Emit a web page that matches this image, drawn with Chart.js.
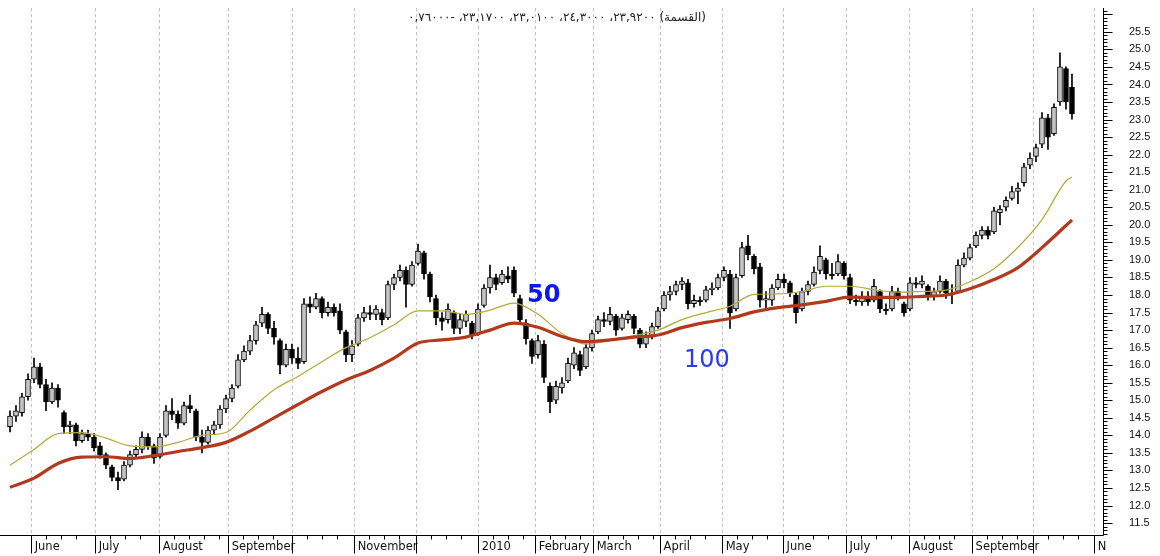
<!DOCTYPE html>
<html>
<head>
<meta charset="utf-8">
<script src="https://cdn.jsdelivr.net/npm/chart.js@4.4.0/dist/chart.umd.min.js"></script>
<style>
  html, body { margin: 0; padding: 0; background: #fff; }
  #wrap { position: relative; width: 1160px; height: 556px; }
  #title { position: absolute; top: 10px; left: 0; width: 1114px; text-align: center;
           font: 12px "DejaVu Sans", sans-serif; color: #222; }
</style>
</head>
<body>
<div id="wrap">
  <canvas id="chart" width="1160" height="556"></canvas>
  <div id="title" dir="rtl">(القسمة) ٢٣,٩٢٠٠، ٢٤,٣٠٠٠، ٢٣,٠١٠٠، ٢٣,١٧٠٠، -٠,٧٦٠٠٠</div>
</div>
<script>
// --- month ticks on the bar axis (bar index units) ---
const monthPos = [3.5, 14.17, 24.83, 36.33, 47, 57.33, 67.67, 78, 87.5, 97.17, 108.33, 118.67, 128.83, 139.33, 149.83, 160.33, 170.5, 180.67];
const monthLabels = ['June', 'July', 'August', 'September', '', 'November', '', '2010', 'February', 'March', 'April', 'May', 'June', 'July', 'August', 'September', '', 'N'];

// --- candles (one bar every index) ---
const opens = [
  14.25, 14.55, 14.65, 15.1, 15.6, 15.95, 15.45, 14.95, 15.35, 14.65,
  14.25, 14.3, 13.85, 14.05, 13.95, 13.7, 13.45, 13.1, 12.8, 12.75,
  13.15, 13.45, 13.6, 13.95, 13.7, 13.4, 14.0, 14.7, 14.6, 14.35,
  14.85, 14.7, 13.95, 13.8, 14.15, 14.3, 14.75, 15.05, 15.4, 16.15,
  16.4, 16.7, 17.2, 17.45, 17.05, 16.7, 16.0, 16.45, 16.2, 16.1,
  17.75, 17.65, 17.9, 17.5, 17.65, 17.55, 16.95, 16.3, 16.6, 17.35,
  17.5, 17.45, 17.5, 17.35, 18.3, 18.5, 18.7, 18.3, 18.9, 19.2,
  18.6, 17.9, 17.35, 17.3, 17.5, 17.05, 17.25, 17.2, 16.9, 17.7,
  18.2, 18.5, 18.35, 18.55, 18.7, 17.9, 17.2, 16.7, 16.3, 16.6,
  15.4, 15.0, 15.35, 15.55, 16.0, 16.3, 15.95, 16.5, 16.95, 17.3,
  17.25, 17.4, 17.05, 17.3, 17.4, 17.0, 16.6, 16.8, 17.1, 17.6,
  18.0, 18.1, 18.3, 18.35, 17.75, 17.85, 17.85, 18.15, 18.2, 18.5,
  18.6, 17.6, 18.55, 19.4, 19.1, 18.8, 17.85, 17.85, 18.2, 18.45,
  18.35, 18.0, 17.6, 18.1, 18.3, 18.7, 19.0, 18.6, 18.6, 18.9,
  18.5, 17.85, 17.8, 17.95, 17.85, 18.1, 17.6, 17.6, 18.1, 17.75,
  17.6, 18.35, 18.3, 18.25, 17.95, 18.1, 18.4, 18.05, 18.1, 18.85,
  19.05, 19.4, 19.7, 19.85, 19.8, 20.35, 20.5, 20.75, 20.95, 21.2,
  21.7, 21.95, 22.3, 23.05, 22.6, 23.5, 24.45, 23.92
];
const highs = [
  14.7, 14.85, 15.2, 15.75, 16.2, 16.05, 15.6, 15.5, 15.45, 14.7,
  14.4, 14.35, 14.15, 14.15, 14.05, 13.8, 13.5, 13.15, 12.95, 13.25,
  13.55, 13.7, 14.1, 14.05, 13.75, 14.05, 14.85, 15.05, 14.7, 14.95,
  15.15, 14.75, 14.15, 14.25, 14.4, 14.85, 15.15, 15.45, 16.3, 16.55,
  16.85, 17.25, 17.65, 17.5, 17.25, 16.75, 16.6, 16.6, 16.5, 17.9,
  17.95, 18.05, 17.95, 17.8, 17.75, 17.75, 17.0, 16.7, 17.45, 17.65,
  17.7, 17.7, 17.6, 18.4, 18.6, 18.85, 18.8, 18.95, 19.45, 19.25,
  18.65, 18.0, 17.5, 17.75, 17.55, 17.45, 17.55, 17.25, 17.75, 18.3,
  18.85, 18.6, 18.7, 18.8, 18.8, 18.0, 17.3, 16.75, 16.85, 16.7,
  15.5, 15.55, 15.65, 16.2, 16.5, 16.4, 16.6, 17.0, 17.4, 17.5,
  17.65, 17.45, 17.45, 17.55, 17.45, 17.05, 16.95, 17.2, 17.65, 18.1,
  18.25, 18.4, 18.5, 18.45, 18.0, 17.95, 18.25, 18.35, 18.6, 18.8,
  18.7, 18.6, 19.5, 19.7, 19.15, 18.9, 18.1, 18.3, 18.6, 18.6,
  18.4, 18.05, 18.2, 18.4, 18.8, 19.4, 19.05, 18.9, 19.15, 18.95,
  18.6, 18.0, 18.1, 18.1, 18.45, 18.15, 17.75, 18.25, 18.2, 17.8,
  18.5, 18.5, 18.55, 18.3, 18.2, 18.55, 18.45, 18.3, 19.0, 19.2,
  19.45, 19.8, 19.95, 19.95, 20.5, 20.55, 20.8, 21.1, 21.2, 21.75,
  22.05, 22.3, 23.2, 23.15, 23.45, 24.9, 24.5, 24.3
];
const lows = [
  14.1, 14.4, 14.55, 15.0, 15.5, 15.35, 14.7, 14.9, 14.8, 14.05,
  14.05, 13.7, 13.8, 13.85, 13.55, 13.35, 13.05, 12.7, 12.45, 12.7,
  13.1, 13.35, 13.5, 13.6, 13.2, 13.35, 13.95, 14.45, 14.2, 14.3,
  14.65, 13.85, 13.5, 13.75, 14.05, 14.2, 14.65, 14.95, 15.35, 16.1,
  16.3, 16.6, 17.1, 16.9, 16.6, 15.75, 15.95, 16.05, 15.9, 16.05,
  17.5, 17.6, 17.35, 17.4, 17.4, 16.9, 16.1, 16.1, 16.55, 17.25,
  17.3, 17.3, 17.15, 17.3, 18.15, 18.4, 17.65, 18.25, 18.85, 18.45,
  17.8, 17.15, 17.0, 17.2, 16.9, 16.9, 17.1, 16.75, 16.85, 17.65,
  18.05, 18.15, 18.3, 18.35, 17.95, 17.2, 16.6, 16.05, 16.2, 15.5,
  14.65, 14.9, 15.2, 15.5, 15.9, 15.7, 15.9, 16.4, 16.9, 17.1,
  17.15, 16.85, 17.0, 17.2, 16.9, 16.5, 16.5, 16.75, 17.05, 17.55,
  17.85, 18.0, 18.15, 17.6, 17.65, 17.7, 17.8, 18.0, 18.15, 18.4,
  17.05, 17.55, 18.5, 19.0, 18.6, 17.65, 17.6, 17.7, 18.15, 18.2,
  17.95, 17.2, 17.55, 18.0, 18.25, 18.6, 18.45, 18.45, 18.55, 18.45,
  17.75, 17.7, 17.7, 17.7, 17.8, 17.5, 17.45, 17.55, 17.85, 17.4,
  17.55, 18.2, 18.2, 17.85, 17.85, 18.05, 17.9, 17.75, 18.05, 18.8,
  19.0, 19.35, 19.6, 19.6, 19.75, 20.0, 20.4, 20.7, 20.6, 21.1,
  21.6, 21.8, 22.2, 22.15, 22.55, 23.4, 23.3, 23.01
];
const closes = [
  14.55, 14.7, 15.1, 15.6, 15.95, 15.45, 14.95, 15.35, 15.0, 14.25,
  14.3, 13.85, 14.05, 13.95, 13.65, 13.45, 13.15, 12.8, 12.7, 13.15,
  13.45, 13.6, 13.95, 13.7, 13.35, 13.95, 14.7, 14.6, 14.35, 14.85,
  14.75, 13.95, 13.8, 14.15, 14.3, 14.75, 15.05, 15.35, 16.15, 16.4,
  16.7, 17.15, 17.45, 17.05, 16.8, 16.0, 16.45, 16.2, 16.05, 17.75,
  17.65, 17.9, 17.5, 17.65, 17.5, 17.0, 16.3, 16.55, 17.35, 17.5,
  17.45, 17.6, 17.3, 18.3, 18.5, 18.7, 18.3, 18.85, 19.25, 18.6,
  17.95, 17.35, 17.25, 17.6, 17.05, 17.3, 17.45, 16.85, 17.6, 18.2,
  18.5, 18.3, 18.6, 18.45, 18.05, 17.3, 16.75, 16.25, 16.7, 15.65,
  14.95, 15.4, 15.5, 16.05, 16.35, 15.85, 16.5, 16.9, 17.3, 17.25,
  17.45, 17.0, 17.35, 17.45, 17.05, 16.6, 16.8, 17.1, 17.55, 18.0,
  18.1, 18.3, 18.4, 17.75, 17.85, 17.8, 18.15, 18.2, 18.5, 18.7,
  17.5, 18.5, 19.35, 19.15, 18.75, 17.85, 17.9, 18.2, 18.45, 18.35,
  18.05, 17.5, 18.1, 18.3, 18.65, 19.1, 18.6, 18.55, 18.95, 18.55,
  17.85, 17.8, 17.95, 17.8, 18.25, 17.6, 17.55, 18.1, 17.95, 17.5,
  18.35, 18.3, 18.4, 17.95, 18.1, 18.4, 18.05, 18.0, 18.85, 19.05,
  19.35, 19.7, 19.85, 19.7, 20.4, 20.45, 20.7, 20.95, 21.05, 21.65,
  21.9, 22.2, 23.05, 22.5, 23.35, 24.5, 23.5, 23.17
];

// --- moving averages, read every 4th bar ---
const maBars = [0, 4, 8, 12, 16, 20, 24, 28, 32, 36, 40, 44, 48, 52, 56, 60, 64, 68, 72, 76, 80, 84, 88,
  92, 96, 100, 104, 108, 112, 116, 120, 124, 128, 132, 136, 140, 144, 148, 152, 156, 160, 164, 168, 172, 176, 177];
const ma50 = [13.15, 13.6, 14.05, 14.08, 13.92, 13.7, 13.67, 13.8, 14.0, 14.08, 14.72, 15.3, 15.68, 16.1, 16.5, 16.78,
  17.15, 17.55, 17.55, 17.45, 17.57, 17.77, 17.45, 16.9, 16.6, 16.7, 16.84, 17.0, 17.3, 17.5, 17.68, 18.02, 18.03,
  18.1, 18.25, 18.25, 18.15, 18.08, 18.1, 18.14, 18.38, 18.75, 19.36, 20.15, 21.25, 21.36];
const ma100 = [12.52, 12.78, 13.2, 13.38, 13.39, 13.34, 13.42, 13.54, 13.65, 13.8, 14.12, 14.5, 14.88, 15.25, 15.58, 15.85,
  16.2, 16.63, 16.72, 16.8, 17.0, 17.2, 17.08, 16.82, 16.67, 16.72, 16.8, 16.86, 17.07, 17.22, 17.33, 17.52, 17.64,
  17.72, 17.82, 17.94, 17.93, 17.93, 17.96, 18.0, 18.18, 18.44, 18.78, 19.35, 19.98, 20.14];

const wickData = highs.map((h, i) => ({ x: i, y: [lows[i], h] }));
const bodyData = opens.map((o, i) => ({ x: i, y: [o, closes[i]] }));

// grid, axis lines, tick marks and the 50 / 100 labels
const chartFrame = {
    id: 'chartFrame',
    beforeDatasetsDraw(chart) {
        const { ctx, chartArea: a, scales: { x } } = chart;
        ctx.save();
        ctx.strokeStyle = '#c4c4c4';
        ctx.lineWidth = 1;
        ctx.setLineDash([3, 3]);
        monthPos.forEach(p => {
            const px = Math.round(x.getPixelForValue(p)) + 0.5;
            ctx.beginPath();
            ctx.moveTo(px, a.top);
            ctx.lineTo(px, a.bottom);
            ctx.stroke();
        });
        ctx.restore();
    },
    afterDraw(chart) {
        const { ctx, chartArea: a, scales: { x, y } } = chart;
        ctx.save();
        ctx.strokeStyle = '#000';
        ctx.lineWidth = 1;
        const bottom = Math.round(a.bottom) + 0.5;
        const right = Math.round(a.right) + 0.5;
        ctx.beginPath();
        ctx.moveTo(0, bottom); ctx.lineTo(right, bottom);
        ctx.moveTo(right, a.top); ctx.lineTo(right, bottom);
        // month ticks and weekly minor ticks
        monthPos.forEach((p, k) => {
            const px = Math.round(x.getPixelForValue(p)) + 0.5;
            ctx.moveTo(px, bottom); ctx.lineTo(px, bottom + 18);
            const next = k < monthPos.length - 1 ? monthPos[k + 1] : x.max;
            for (let w = p + 2.5; w < next - 1; w += 2.5) {
                const wx = Math.round(x.getPixelForValue(w)) + 0.5;
                ctx.moveTo(wx, bottom); ctx.lineTo(wx, bottom + 4);
            }
        });
        // value ruler
        for (let t = 112; t <= 261; t++) {
            const py = Math.round(y.getPixelForValue(t / 10)) + 0.5;
            const len = t % 5 === 0 ? 9 : 4;
            ctx.moveTo(right, py); ctx.lineTo(right + len, py);
        }
        ctx.stroke();

        ctx.textBaseline = 'middle';
        ctx.fillStyle = '#0c18e8';
        ctx.font = 'bold 24px "DejaVu Sans"';
        ctx.fillText('50', x.getPixelForValue(86.17), y.getPixelForValue(17.98));
        ctx.fillStyle = '#2a3af2';
        ctx.font = '24px "DejaVu Sans"';
        ctx.fillText('100', x.getPixelForValue(112.33), y.getPixelForValue(16.12));
        ctx.restore();
    }
};

new Chart(document.getElementById('chart'), {
    type: 'bar',
    data: {
        datasets: [
            {
                type: 'line', label: '100', order: 0,
                data: maBars.map((b, k) => ({ x: b, y: ma100[k] })),
                borderColor: '#b3391c', borderWidth: 3.2, pointRadius: 0,
                cubicInterpolationMode: 'monotone'
            },
            {
                type: 'line', label: '50', order: 1,
                data: maBars.map((b, k) => ({ x: b, y: ma50[k] })),
                borderColor: '#b3aa3a', borderWidth: 1.2, pointRadius: 0,
                cubicInterpolationMode: 'monotone'
            },
            {
                label: 'body', order: 2, data: bodyData, barThickness: 5,
                backgroundColor: ctx => {
                    const i = ctx.dataIndex;
                    return closes[i] >= opens[i] ? '#c4c4c4' : '#000000';
                },
                borderColor: '#000', borderWidth: 1, borderSkipped: false, grouped: false
            },
            {
                label: 'wick', order: 3, data: wickData, barThickness: 1,
                backgroundColor: '#000', borderWidth: 0, grouped: false
            }
        ]
    },
    options: {
        responsive: false,
        animation: false,
        layout: { padding: { top: 8, left: 0, right: 0, bottom: 0 } },
        plugins: { legend: { display: false }, tooltip: { enabled: false }, title: { display: false } },
        scales: {
            x: {
                type: 'linear', min: -1.667, max: 182.17, offset: false,
                grid: { display: false, drawTicks: false }, border: { display: false },
                afterBuildTicks: s => { s.ticks = monthPos.map(v => ({ value: v })); },
                afterFit: s => { s.height = 21; s.paddingLeft = 0; s.paddingRight = 0; },
                ticks: {
                    autoSkip: false, maxRotation: 0, align: 'start', padding: 5,
                    color: '#111', font: { family: 'DejaVu Sans', size: 11.5 },
                    callback: (v, i) => ' ' + monthLabels[i]
                }
            },
            y: {
                position: 'right', min: 11.16, max: 26.18,
                grid: { display: false, drawTicks: false }, border: { display: false },
                afterFit: s => { s.width = 57; s.paddingTop = 0; s.paddingBottom = 0; },
                ticks: {
                    stepSize: 0.5, includeBounds: false, padding: 26,
                    color: '#111', font: { family: 'Liberation Sans', size: 11 },
                    callback: v => (v > 25.6 ? null : v.toFixed(1))
                }
            }
        }
    },
    plugins: [chartFrame]
});
</script>
</body>
</html>
